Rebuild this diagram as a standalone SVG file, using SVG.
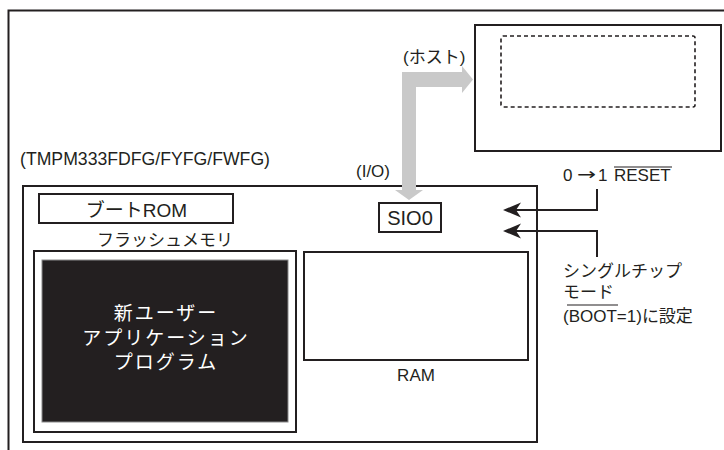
<svg xmlns="http://www.w3.org/2000/svg" width="724" height="450" viewBox="0 0 724 450">
<style>
.ln{fill:none;stroke:#231f20;stroke-width:2}
.box{fill:#fff;stroke:#231f20;stroke-width:2}
.t{font-family:"Liberation Sans","Noto Sans CJK JP",sans-serif;fill:#231f20}
.jp{font-family:"Noto Sans CJK JP","Liberation Sans",sans-serif;fill:#231f20}
.w{fill:#fff}
.ah{fill:#231f20;stroke:none}
</style>
<rect width="724" height="450" fill="#fff"/>
<g id="frame">
<path class="ln" d="M8.5,450 L8.5,10.5 L724,10.5"/>
</g>
<g id="host">
<rect class="box" x="475" y="25" width="246" height="126"/>
<rect x="501" y="36" width="194" height="71" rx="2" fill="none" stroke="#231f20" stroke-width="1.6" stroke-dasharray="4 3"/>
<text class="t" x="403" y="63" font-size="17">(ホスト)</text>
</g>
<g id="chip">
<text class="t" x="20" y="165" font-size="18" textLength="250" lengthAdjust="spacingAndGlyphs">(TMPM333FDFG/FYFG/FWFG)</text>
<text class="t" x="356" y="177" font-size="17">(I/O)</text>
<rect class="box" x="23" y="186" width="514" height="256"/>
</g>
<g id="bootrom">
<rect class="box" x="39" y="194" width="194" height="29"/>
<text class="t" x="136.5" y="217" font-size="19" text-anchor="middle">ブートROM</text>
</g>
<g id="flash">
<text class="jp" x="165" y="246" font-size="17" text-anchor="middle">フラッシュメモリ</text>
<rect class="box" x="34" y="251" width="262" height="181"/>
<rect x="42" y="260" width="246" height="162" fill="#231f20" stroke="#8a8a8a" stroke-width="1"/>
<text class="jp w" font-size="19" letter-spacing="2" text-anchor="middle"><tspan x="166" y="320">新ユーザー</tspan><tspan x="166" y="345">アプリケーション</tspan><tspan x="166" y="369">プログラム</tspan></text>
</g>
<g id="ram">
<rect class="box" x="304" y="252" width="224" height="108"/>
<text class="t" x="416" y="381" font-size="17" text-anchor="middle">RAM</text>
</g>
<g id="sio0">
<rect class="box" x="379" y="203" width="62" height="29"/>
<text class="t" x="410" y="225" font-size="20" text-anchor="middle">SIO0</text>
</g>
<g id="reset">
<text class="t" y="181" font-size="17"><tspan x="563">0</tspan><tspan x="598">1</tspan><tspan x="614">RESET</tspan></text>
<text x="577" y="180" font-family="DejaVu Sans,sans-serif" font-size="17" fill="#231f20" textLength="19" lengthAdjust="spacingAndGlyphs">→</text>
<line x1="614" y1="167" x2="672" y2="167" stroke="#231f20" stroke-width="1.2"/>
</g>
<g id="bootmode">
<text class="jp" font-size="17"><tspan x="563" y="277">シングルチップ</tspan><tspan x="563" y="298">モード</tspan></text>
<text class="t" x="563" y="322" font-size="17">(BOOT=1)<tspan class="jp" font-size="17">に設定</tspan></text>
<line x1="567" y1="305" x2="618" y2="305" stroke="#231f20" stroke-width="1.2"/>
</g>
<g id="connectors">
<path d="M402,190 L402,72 L462,72 L462,66 L473,79.5 L462,93 L462,87 L416,87 L416,190 L423,190 L409,200 L395,190 Z" fill="#c9c9c9"/>
<path class="ln" d="M597,189 L597,210 L512,210"/>
<path class="ah" d="M503,210 L521,202.5 L516,210 L521,217.5 Z"/>
<path class="ln" d="M597,257 L597,231 L512,231"/>
<path class="ah" d="M503,231 L521,223.5 L516,231 L521,238.5 Z"/>
</g>
</svg>
